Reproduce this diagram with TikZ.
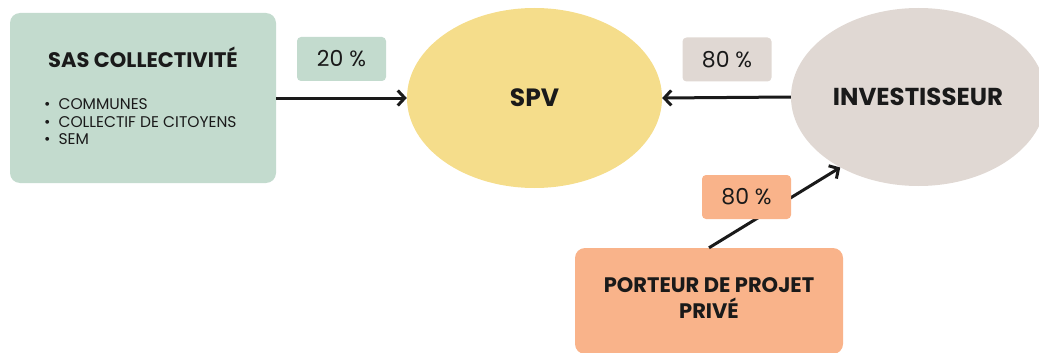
\documentclass[tikz,border=0pt]{standalone}
\usepackage{fontspec}
\setmainfont{Poppins}
\usetikzlibrary{arrows.meta,shapes.geometric}
\definecolor{cgreen}{HTML}{C3DBCE}
\definecolor{cyellow}{HTML}{F5DD8B}
\definecolor{cbeige}{HTML}{E0D8D3}
\definecolor{corange}{HTML}{F9B38A}
\definecolor{ctext}{HTML}{1A1A1A}
\tikzset{
  box/.style={fill=#1, draw=none, rounded corners=10pt, inner sep=0pt},
  tag/.style={fill=#1, draw=none, rounded corners=4pt, inner sep=0pt,
    minimum width=89pt, minimum height=44pt, font=\fontsize{22}{26}\selectfont, text=ctext},
  oval/.style={ellipse, fill=#1, draw=none, inner sep=0pt},
  link/.style={line width=3pt, ctext, -{Straight Barb[length=7pt,width=15pt,line width=3pt]}},
  lbl/.style={text=ctext, inner sep=0pt}
}
\begin{document}
\begin{tikzpicture}[x=1pt,y=-1pt]
\useasboundingbox (0,0) rectangle (1039,353);
% nodes
\node[box=cgreen, minimum width=266pt, minimum height=170pt] (sas) at (143,98) {};
\node[lbl, font=\fontsize{21}{24}\selectfont\bfseries] (sastitle) at (143,57) {SAS COLLECTIVITÉ};
\node[lbl, anchor=west, align=left, font=\fontsize{15.5}{17.5}\selectfont] (saslist) at (44,122)
  {\textbullet\hspace{8pt}COMMUNES\\ \textbullet\hspace{8pt}COLLECTIF DE CITOYENS\\ \textbullet\hspace{8pt}SEM};
\node[oval=cyellow, minimum width=255pt, minimum height=180pt] (spv) at (534.5,98) {};
\node[lbl, font=\fontsize{25}{28}\selectfont\bfseries] (spvtxt) at (534.5,98) {SPV};
\node[oval=cbeige, minimum width=255pt, minimum height=178pt] (inv) at (918.5,97) {};
\node[lbl, font=\fontsize{24.5}{28}\selectfont\bfseries] (invtxt) at (918,97) {INVESTISSEUR};
\node[box=corange, minimum width=268pt, minimum height=106pt] (porteur) at (709,301) {};
\node[lbl, align=center, font=\fontsize{21}{26}\selectfont\bfseries] (portxt) at (709,298)
  {PORTEUR DE PROJET\\PRIVÉ};
% connectors
\draw[link] (sas.east) -- (spv.west);
\draw[link] (inv.west) -- (spv.east);
\draw[link] (porteur.north) -- (inv.222);
% percentage tags
\node[tag=cgreen] (t20) at (341.5,59) {20 \%};
\node[tag=cbeige] (t80a) at (727,59.5) {80 \%};
\node[tag=corange] (t80b) at (746.5,197) {80 \%};
\end{tikzpicture}
\end{document}
